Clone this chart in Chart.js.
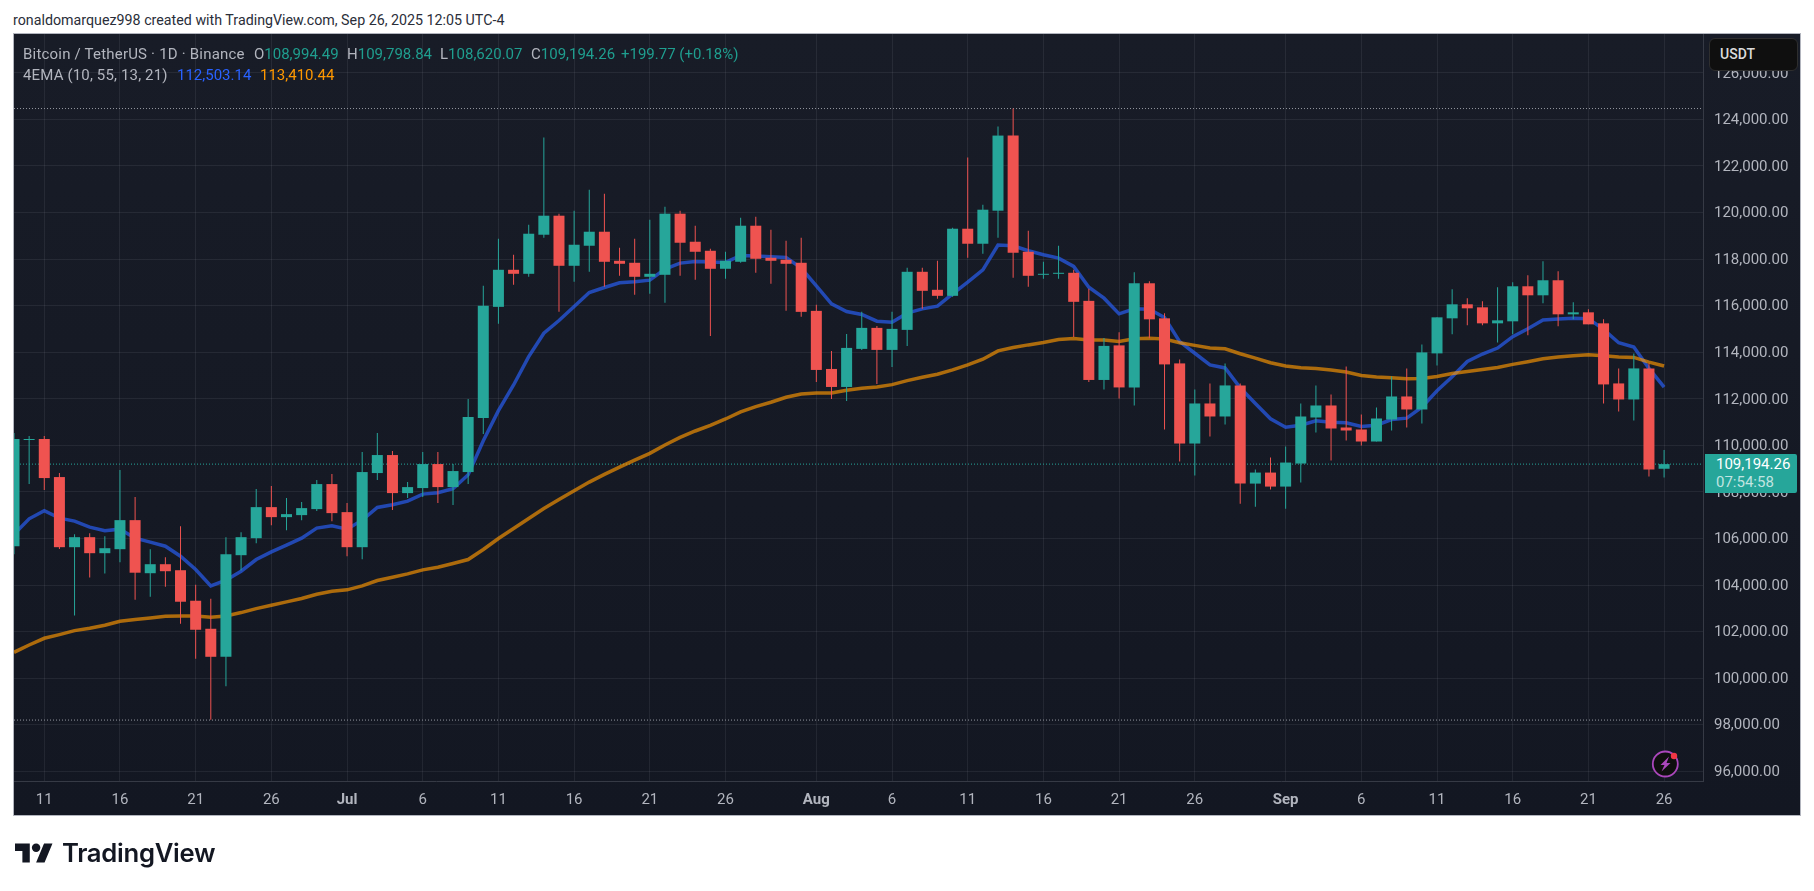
<!DOCTYPE html>
<html>
<head>
<meta charset="utf-8">
<title>BTCUSDT 1D</title>
<script src="https://cdn.jsdelivr.net/npm/chart.js@4"></script>
<style>
html,body{margin:0;padding:0;background:#fff;width:1814px;height:891px;overflow:hidden}
.abs{position:absolute;white-space:nowrap;font-family:Roboto,sans-serif}
#panel{position:absolute;left:13px;top:33px;width:1788px;height:783px;box-sizing:border-box;border:1px solid #b2b5be;background:linear-gradient(#181c27,#131722)}
#c{position:absolute;left:0;top:0}
.leg{font-size:15px;line-height:20px;color:#b2b5be;transform:translateY(-50%)}
.val{color:#1f9e8f}
</style>
</head>
<body>
<div class="abs" id="byline" style="left:13px;top:11px;font-size:14.25px;line-height:18px;color:#2a2e39">ronaldomarquez998 created with TradingView.com, Sep 26, 2025 12:05 UTC-4</div>
<div id="panel"></div>
<canvas id="c" width="1814" height="891"></canvas>

<div class="abs leg" style="left:23px;top:54px;letter-spacing:.2px">Bitcoin / TetherUS · 1D · Binance</div>
<div class="abs leg" style="left:254px;top:54px">O<span class="val">108,994.49</span></div>
<div class="abs leg" style="left:347px;top:54px">H<span class="val">109,798.84</span></div>
<div class="abs leg" style="left:440px;top:54px">L<span class="val">108,620.07</span></div>
<div class="abs leg" style="left:531px;top:54px">C<span class="val">109,194.26</span></div>
<div class="abs leg val" style="left:621px;top:54px">+199.77 (+0.18%)</div>
<div class="abs leg" style="left:23px;top:75px;letter-spacing:.15px">4EMA (10, 55, 13, 21)</div>
<div class="abs leg" style="left:177px;top:75px;color:#2962ff">112,503.14</div>
<div class="abs leg" style="left:260px;top:75px;color:#ff9800">113,410.44</div>

<div class="abs" style="left:1709px;top:38px;width:89px;height:33px;box-sizing:border-box;background:#0f0f0f;border:1px solid #2e2e2e;border-radius:6px;color:#dbdbdb;font-size:14px;font-weight:500;line-height:31px;padding-left:10px">USDT</div>

<div class="abs" style="left:1705px;top:454px;width:92px;height:39px;background:#26a69a;border-radius:0 2px 2px 0">
  <div class="abs" style="left:11px;top:1px;font-size:15px;line-height:19px;color:#fff">109,194.26</div>
  <div class="abs" style="left:11px;top:19px;font-size:15px;line-height:19px;color:rgba(255,255,255,.72)">07:54:58</div>
</div>

<svg class="abs" style="left:1651px;top:749px" width="30" height="30" viewBox="0 0 30 30">
  <circle cx="14.3" cy="15" r="12.5" fill="#0f0f0f" stroke="#ab47bc" stroke-width="1.8"/>
  <path d="M18 7.5 9.5 16h4L10.5 22.5 19.5 14h-4z" fill="#ab47bc"/>
  <circle cx="23" cy="7" r="3.2" fill="#f23645"/>
</svg>

<svg class="abs" style="left:15px;top:843px" width="38" height="20" viewBox="0 4 36 18">
  <path d="M14 22H7V11H0V4h14v18zM28 22h-8l7.5-18h8L28 22z" fill="#131722"/>
  <circle cx="20" cy="8" r="4" fill="#131722"/>
</svg>
<div class="abs" style="left:62px;top:838px;font-family:Inter,sans-serif;font-size:25.7px;font-weight:600;line-height:30px;color:#131722;letter-spacing:-.3px">TradingView</div>

<script>
// daily candles Jun 9 -> Sep 26 2025
const opens = [
  105669,110229,110272,108638,105626,106056,105368,105540,106788,104508,104895,104637,103326,102122,100918,105282,106013,107347,106917,107003,107261,108337,
  107132,105626,108810,109584,107949,108165,109197,108207,108853,111176,115949,117541,117369,119047,119864,117713,118574,119176,117928,117842,117240,117326,119950,118746,118358,117584,117885,119434,118057,117971,117842,
  115777,113282,112508,114143,115046,114100,114960,117455,116681,116423,119305,118660,120079,123306,118315,117326,117369,117412,116207,112809,114294,112488,116962,115456,113520,110078,111799,111240,112574,108357,108831,
  108229,109218,111197,111713,110767,110681,110165,111111,112100,111541,113950,115456,116058,115929,115241,115327,116833,116445,117091,115628,115714,115241,112660,111971,113305,108994.49
];
const highs = [
  110530,110400,110400,108810,106186,106229,106100,108939,107777,105540,105196,106530,104013,103412,106056,106271,108121,108250,107734,107562,108509,108767,
  107519,109713,110530,109756,108423,109713,109713,109197,111993,116855,118875,118186,119477,123220,119950,120079,120983,120811,118488,118875,119692,120251,120079,119434,118445,118315,119778,119821,119262,118789,118918,
  116035,114057,114788,115734,115132,115734,117627,117627,117928,119350,122359,120337,123693,124467,119219,117885,118574,117541,116724,114616,114854,117435,117048,115671,113692,112402,112660,113520,112660,108960,109476,
  109949,111799,112574,112186,113391,111326,111627,112961,113305,114337,115499,116704,116316,116187,116790,117005,117306,117908,117478,116144,115843,115413,113305,113950,113520,109798.84
];
const lows = [
  105325,108337,108078,105550,102693,104328,104500,104981,103369,103497,103927,102337,100830,98211,99650,104630,105798,106573,106358,106788,107175,106745,
  105239,105110,108509,107218,107734,107777,107519,107433,108337,110488,115218,116896,117240,118918,115734,117025,117455,116810,117283,116466,116509,116121,117283,117111,114702,117154,117842,117412,116939,115777,115519,
  112723,111992,111905,114100,112637,113368,114272,115863,116294,116380,118057,118229,118918,117197,116810,117154,117154,114659,112723,112402,112014,111713,114596,110681,109304,108702,110380,110896,107497,107368,108100,
  107282,108401,110552,109347,110208,109992,110165,110638,110767,110939,113434,114768,115155,115155,114423,114768,114725,116101,115112,115413,115198,111799,111455,111068,108659,108620.07
];
const closes = [
  110272,110272,108595,105626,106056,105368,105583,106788,104530,104895,104594,103283,102079,100918,105325,106056,107347,106917,107046,107304,108337,107089,
  105626,108853,109584,107949,108207,109197,108207,108896,111219,115994,117541,117369,119090,119864,117713,118617,119176,117885,117799,117240,117369,119950,118703,118315,117584,117928,119434,118014,117928,117799,115734,
  113239,112508,114186,115046,114100,115003,117455,116638,116423,119305,118660,120122,123306,118272,117283,117369,117412,116165,112809,114272,112488,116962,115413,113477,110078,111799,111240,112574,108357,108831,108229,
  109261,111240,111713,110724,110638,110165,111154,112100,111541,113993,115499,116058,115886,115241,115370,116833,116445,117091,115628,115714,115198,112617,111971,113305,108960,109194.26
];

// EMA 10 (blue) and EMA 55 (orange)
const emaBlue = [
  106185,106845,107189,106874,106745,106487,106329,106401,106013,105841,105669,105239,104666,103963,104207,104594,105096,105426,105712,106013,106444,106544,
  106401,106788,107333,107447,107605,107906,107964,108136,108738,110200,111490,112594,113813,114817,115361,115964,116566,116781,116982,117025,117097,117570,117828,117900,117871,117857,118158,118129,118100,118072,117613,
  116853,116078,115749,115620,115333,115290,115677,115863,115978,116509,117011,117541,118602,118574,118358,118186,118043,117685,116795,116322,115648,115863,115849,115490,114458,113956,113454,113325,112473,111799,111140,
  110781,110867,111054,110996,110967,110810,110867,111111,111168,111641,112344,112946,113606,113922,114180,114667,115011,115384,115427,115456,115441,114983,114409,114223,113305,112503.14
];
const emaOrange = [
  101111,101426,101713,101871,102043,102143,102272,102445,102516,102588,102660,102674,102674,102617,102674,102817,102989,103133,103276,103420,103606,103735,
  103793,103965,104194,104337,104481,104653,104768,104925,105096,105526,106000,106430,106860,107290,107677,108050,108423,108752,109068,109369,109656,110014,110344,110617,110860,111133,111434,111663,111850,112065,112208,
  112251,112251,112364,112450,112508,112608,112780,112924,113053,113239,113454,113698,114057,114200,114315,114415,114544,114587,114530,114524,114466,114581,114596,114567,114409,114294,114180,114151,113936,113749,113549,
  113405,113334,113305,113233,113147,113004,112932,112903,112860,112875,112961,113090,113176,113262,113348,113477,113592,113721,113792,113850,113893,113850,113792,113778,113577,113410.44
];

// x axis: index of the day (0 = Jun 9) and what is printed there
const tickDays   = [2,7,12,17,22,27,32,37,42,47,53,58,63,68,73,78,84,89,94,99,104,109];
const tickLabels = ["11","16","21","26","Jul","6","11","16","21","26","Aug","6","11","16","21","26","Sep","6","11","16","21","26"];
const priceTicks = [96000,98000,100000,102000,104000,106000,108000,110000,112000,114000,116000,118000,120000,122000,124000,126000];

const highLine = 124467, lowLine = 98200, lastPrice = 109194.26;
const xMin = 0, xMax = 111.57, yMin = 95583, yMax = 127669;

const UP = "#26a69a", DOWN = "#ef5350";
const colors = closes.map((c,i) => c >= opens[i] ? UP : DOWN);
const flat = (v) => [{x:xMin,y:v},{x:xMax,y:v}];
const dotted = (v,color) => ({type:"line",data:flat(v),borderColor:color,borderWidth:1,borderDash:[1,2],pointRadius:0,order:5});

new Chart(document.getElementById("c"),{
  type:"bar",
  data:{datasets:[
    dotted(highLine,"#9598a1"),
    dotted(lowLine,"#9598a1"),
    dotted(lastPrice,UP),
    {type:"line",data:emaBlue.map((y,x)=>({x,y})),borderColor:"rgba(41,98,255,.65)",borderWidth:3.5,pointRadius:0,tension:0,order:4},
    {type:"line",data:emaOrange.map((y,x)=>({x,y})),borderColor:"rgba(255,152,0,.65)",borderWidth:3.5,pointRadius:0,tension:0,order:3},
    {data:highs.map((h,x)=>({x,y:[lows[x],h]})),backgroundColor:colors,barThickness:1,inflateAmount:0,grouped:false,order:2},
    {data:opens.map((o,x)=>({x,y:[o,closes[x]]})),backgroundColor:colors,barThickness:11,inflateAmount:0,grouped:false,order:1}
  ]},
  options:{
    responsive:false,
    animation:false,
    events:[],
    layout:{padding:{left:14,top:34,right:14,bottom:76}},
    plugins:{legend:{display:false},tooltip:{enabled:false}},
    scales:{
      x:{
        type:"linear",min:xMin,max:xMax,offset:false,
        grid:{offset:false,color:"rgba(240,243,250,.07)",drawTicks:false,tickLength:0},
        border:{color:"#363a45"},
        afterBuildTicks:(a)=>{a.ticks=tickDays.map(value=>({value}));},
        afterFit:(a)=>{a.height=34;},
        ticks:{
          autoSkip:false,maxRotation:0,padding:10,color:"#b2b5be",
          font:(ctx)=>({family:"Roboto",size:15,weight:tickLabels[ctx.index]&&isNaN(tickLabels[ctx.index])?"bold":"normal"}),
          callback:(v,i)=>tickLabels[i]
        }
      },
      y:{
        position:"right",min:yMin,max:yMax,
        grid:{color:"rgba(240,243,250,.07)",drawTicks:false,tickLength:0},
        border:{color:"#363a45"},
        afterBuildTicks:(a)=>{a.ticks=priceTicks.map(value=>({value}));},
        afterFit:(a)=>{a.width=97;},
        ticks:{
          autoSkip:false,padding:11,labelOffset:1,color:"#b2b5be",
          font:{family:"Roboto",size:15},
          callback:(v)=>v.toLocaleString("en-US",{minimumFractionDigits:2,maximumFractionDigits:2})
        }
      }
    }
  }
});
</script>
</body>
</html>
